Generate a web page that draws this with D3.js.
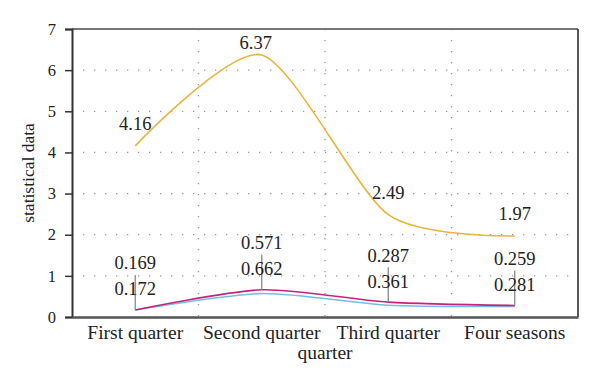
<!DOCTYPE html>
<html>
<head>
<meta charset="utf-8">
<script src="https://cdn.jsdelivr.net/npm/d3@7"></script>
<style>
  body { margin: 0; background: #fff; }
  svg text { font-family: "Liberation Serif", "Times New Roman", Tinos, "DejaVu Serif", serif !important; fill: #222; }
</style>
</head>
<body>
<script>
var quarters = ['First quarter', 'Second quarter', 'Third quarter', 'Four seasons'];
var yellowValues = [4.16, 6.37, 2.49, 1.97];
var pinkValues = [0.172, 0.662, 0.361, 0.281];
var blueValues = [0.169, 0.571, 0.287, 0.259];
var yTicks = [0, 1, 2, 3, 4, 5, 6, 7];

var opt = { width: 600, height: 386, left: 72, right: 22, top: 29, bottom: 69 };

var svg = d3.select('body')
            .append('svg')
            .attr('width', opt.width)
            .attr('height', opt.height);

var x = d3.scaleBand()
          .domain(quarters)
          .range([opt.left, opt.width - opt.right]);

var y = d3.scaleLinear()
          .domain([0, 7])
          .range([opt.height - opt.bottom, opt.top]);

var cx = function(i){ return x(quarters[i]) + x.bandwidth() / 2; };

// grid
var grid = svg.append('g');
grid.selectAll('line.h')
    .data(yTicks.slice(1, 7))
    .enter()
      .append('line')
      .attr('x1', opt.left).attr('x2', opt.width - opt.right)
      .attr('y1', function(d){ return y(d); })
      .attr('y2', function(d){ return y(d); })
      .style('stroke', '#999')
      .style('stroke-width', 1.3)
      .style('stroke-dasharray', '1.3,9.7');
grid.selectAll('line.v')
    .data(quarters.slice(1))
    .enter()
      .append('line')
      .attr('x1', function(d){ return x(d); })
      .attr('x2', function(d){ return x(d); })
      .attr('y1', opt.top).attr('y2', opt.height - opt.bottom)
      .style('stroke', '#999')
      .style('stroke-width', 1.3)
      .style('stroke-dasharray', '1.3,9.7');

// frame
svg.append('line')
   .attr('x1', opt.left).attr('x2', opt.width - opt.right)
   .attr('y1', opt.top).attr('y2', opt.top)
   .style('stroke', '#777').style('stroke-width', 2);
svg.append('line')
   .attr('x1', opt.width - opt.right).attr('x2', opt.width - opt.right)
   .attr('y1', opt.top).attr('y2', opt.height - opt.bottom)
   .style('stroke', '#222').style('stroke-width', 1.5);

var yAxis = svg.append('g')
               .attr('transform', 'translate(' + opt.left + ',0)')
               .call(d3.axisLeft(y).tickValues(yTicks).tickSize(7).tickPadding(9).tickFormat(d3.format('d')));
yAxis.select('.domain').style('stroke', '#333').style('stroke-width', 2);
yAxis.selectAll('.tick line').style('stroke', '#333').style('stroke-width', 1.5);
yAxis.selectAll('text').style('font-size', '16.5px').attr('fill', '#222');

var xAxis = svg.append('g')
               .attr('transform', 'translate(0,' + (opt.height - opt.bottom) + ')')
               .call(d3.axisBottom(x).tickSize(0).tickPadding(8));
xAxis.select('.domain').style('stroke', '#555').style('stroke-width', 2.5);
xAxis.selectAll('text').style('font-size', '19.5px').attr('fill', '#222');

svg.append('text')
   .attr('x', (opt.left + opt.width - opt.right) / 2)
   .attr('y', 359)
   .attr('text-anchor', 'middle')
   .style('font-size', '19.5px')
   .text('quarter');

svg.append('text')
   .attr('transform', 'translate(28,' + ((opt.top + opt.height - opt.bottom) / 2) + ') rotate(-90)')
   .attr('dy', '0.35em')
   .attr('text-anchor', 'middle')
   .style('font-size', '17.5px')
   .text('statistical data');

// lines
var line = d3.line()
             .x(function(d, i){ return cx(i); })
             .y(function(d){ return y(d); })
             .curve(d3.curveCardinal.tension(0.25));

var series = [
  { values: yellowValues, color: '#e8b53c' },
  { values: blueValues, color: '#74bde6' },
  { values: pinkValues, color: '#c2237f' }
];

svg.selectAll('path.series')
   .data(series)
   .enter()
     .append('path')
     .attr('d', function(d){ return line(d.values); })
     .style('fill', 'none')
     .style('stroke', function(d){ return d.color; })
     .style('stroke-width', 1.6);

// leader lines
svg.selectAll('line.leader')
   .data(pinkValues)
   .enter()
     .append('line')
     .attr('x1', function(d, i){ return cx(i); })
     .attr('x2', function(d, i){ return cx(i); })
     .attr('y1', function(d){ return y(d) - 35; })
     .attr('y2', function(d){ return y(d); })
     .style('stroke', '#888')
     .style('stroke-width', 1.3);

// labels
var maxIdx = yellowValues.indexOf(d3.max(yellowValues));
svg.selectAll('text.yl')
   .data(yellowValues)
   .enter()
     .append('text')
     .attr('x', function(d, i){ return cx(i) + (i === maxIdx ? -6 : 0); })
     .attr('y', function(d, i){ return y(d) - (i === maxIdx ? 12 : 22); })
     .attr('dy', '0.35em')
     .attr('text-anchor', 'middle')
     .style('font-size', '18.5px')
     .text(function(d){ return d; });

svg.selectAll('text.bl')
   .data(blueValues)
   .enter()
     .append('text')
     .attr('x', function(d, i){ return cx(i); })
     .attr('y', function(d, i){ return y(pinkValues[i]) - 47; })
     .attr('dy', '0.35em')
     .attr('text-anchor', 'middle')
     .style('font-size', '18.5px')
     .text(function(d){ return d; });

svg.selectAll('text.pl')
   .data(pinkValues)
   .enter()
     .append('text')
     .attr('x', function(d, i){ return cx(i); })
     .attr('y', function(d){ return y(d) - 21; })
     .attr('dy', '0.35em')
     .attr('text-anchor', 'middle')
     .style('font-size', '18.5px')
     .text(function(d){ return d; });
</script>
</body>
</html>
